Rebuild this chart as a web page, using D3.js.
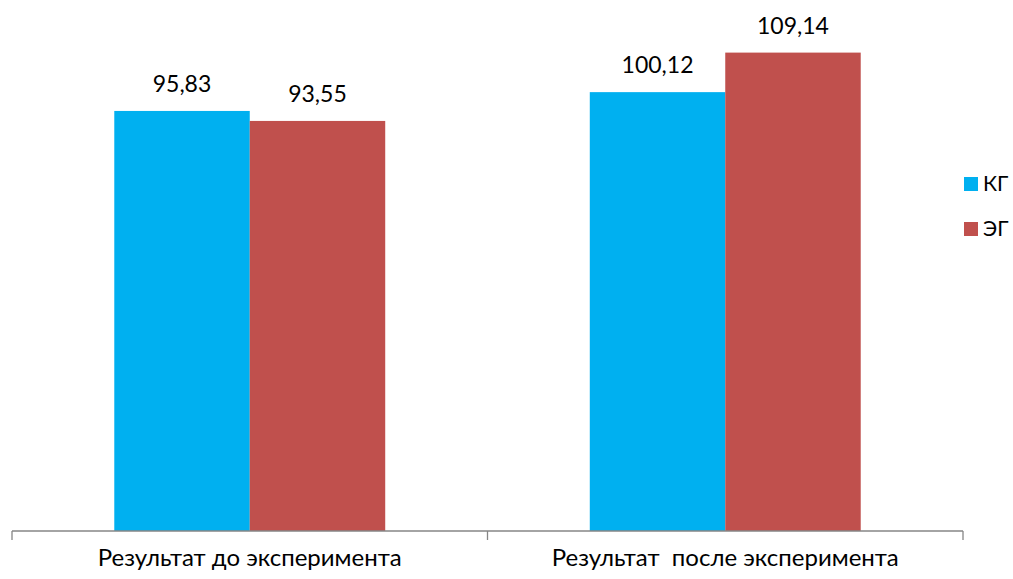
<!DOCTYPE html>
<html>
<head>
<meta charset="utf-8">
<script src="https://cdn.jsdelivr.net/npm/d3@7"></script>
<style>
  html, body { margin: 0; padding: 0; background: #fff; }
  svg { display: block; font-family: Lato, "Open Sans", sans-serif; }
  text { white-space: pre; }
</style>
</head>
<body>
<svg id="chart" width="1013" height="579"></svg>
<script>
// Categories, series and values
const categories = ["Результат до эксперимента", "Результат  после эксперимента"];
const seriesNames = ["КГ", "ЭГ"];
const seriesColors = ["#00B0F0", "#C0504D"];
const valuesKG = [95.83, 100.12];
const valuesEG = [93.55, 109.14];

const seriesValues = [valuesKG, valuesEG];
const rows = categories.map((c, i) => ({
  category: c,
  bars: seriesNames.map((s, j) => ({ series: s, value: seriesValues[j][i], color: seriesColors[j] }))
}));

const svg = d3.select("#chart");
const baseY = 531;

const x0 = d3.scaleBand().domain(categories).range([12, 963]).paddingInner(0).paddingOuter(0);
const x1 = d3.scaleBand().domain(seriesNames).range([0, x0.bandwidth()]).paddingInner(0).paddingOuter(0.755);
const y = d3.scaleLinear().domain([0, 120]).range([baseY, 5]);

const fmt = v => v.toFixed(2).replace(".", ",");

// Bars
const groups = svg.append("g").selectAll("g").data(rows).join("g")
  .attr("transform", d => `translate(${x0(d.category)},0)`);

groups.selectAll("rect").data(d => d.bars).join("rect")
  .attr("x", d => x1(d.series))
  .attr("y", d => y(d.value))
  .attr("width", x1.bandwidth())
  .attr("height", d => y(0) - y(d.value))
  .attr("fill", d => d.color);

// Value labels
groups.selectAll("text").data(d => d.bars).join("text")
  .attr("x", d => x1(d.series) + x1.bandwidth() / 2)
  .attr("y", d => y(d.value) - 19)
  .attr("text-anchor", "middle")
  .attr("font-size", 23)
  .attr("fill", "#000")
  .text(d => fmt(d.value));

// Category axis
const axis = d3.axisBottom(x0).tickSize(0).tickFormat(d => d);
const axisG = svg.append("g").attr("transform", `translate(0,${baseY})`).call(axis);
axisG.select(".domain").attr("stroke", "#868686").attr("stroke-width", 1.3)
  .attr("d", `M12,0H963`);
axisG.selectAll(".tick text")
  .attr("font-family", "Lato, 'Open Sans', sans-serif")
  .attr("font-size", 24)
  .attr("fill", "#000")
  .attr("dy", 0)
  .attr("y", 35)
  .attr("xml:space", "preserve");

// Boundary tick marks between categories
const bounds = [12, ...categories.map(c => x0(c) + x0.bandwidth())];
axisG.selectAll("line.bound").data(bounds).join("line")
  .attr("class", "bound")
  .attr("x1", d => d).attr("x2", d => d)
  .attr("y1", 0).attr("y2", 9)
  .attr("stroke", "#868686").attr("stroke-width", 1.3);

// Legend
const legend = svg.append("g").attr("transform", "translate(964,177)");
const li = legend.selectAll("g").data(seriesNames).join("g")
  .attr("transform", (d, i) => `translate(0,${i * 45})`);
li.append("rect").attr("width", 14).attr("height", 14)
  .attr("fill", (d, i) => seriesColors[i]);
li.append("text").attr("x", 19).attr("y", 14)
  .attr("font-size", 21).attr("fill", "#000").text(d => d);
</script>
</body>
</html>
